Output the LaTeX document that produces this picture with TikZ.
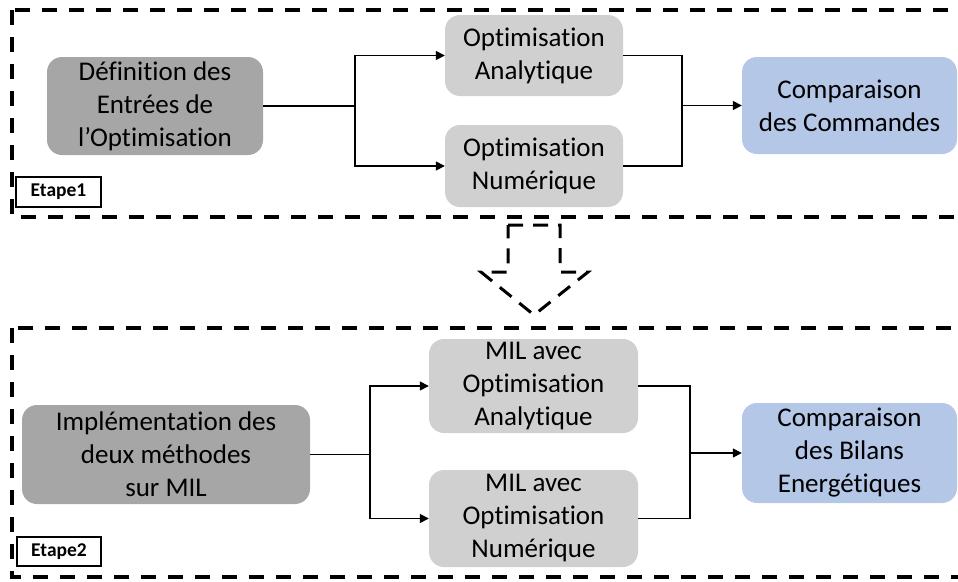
\documentclass[tikz,border=0pt]{standalone}
\usepackage{fontspec}
\setmainfont{Carlito}[Ligatures={NoCommon}]
\usetikzlibrary{arrows.meta}
\definecolor{darkbox}{HTML}{A6A6A6}
\definecolor{lightbox}{HTML}{D0D0D0}
\definecolor{bluebox}{HTML}{B4C7E7}
\tikzset{
  box/.style={rounded corners=15pt, inner sep=0pt, align=center, font=\fontsize{27}{33}\selectfont, text=black},
  darkstep/.style={box, fill=darkbox},
  lightstep/.style={box, fill=lightbox},
  bluestep/.style={box, fill=bluebox},
  frame/.style={line width=4pt, dash pattern=on 15pt off 12pt},
  bigarrow/.style={line width=3pt, dash pattern=on 15pt off 10pt},
  conn/.style={line width=1.5pt},
  arr/.style={conn, -{Triangle[length=9pt,width=9pt]}},
  etape/.style={draw=black, line width=1.3pt, fill=white, inner sep=0pt, font=\fontsize{19.5}{21}\selectfont\bfseries}
}
\begin{document}
\begin{tikzpicture}[x=1pt,y=-1pt]
\useasboundingbox (0,0) rectangle (958,581);
\clip (0,0) rectangle (958,581);
% frames
\draw[frame] (12,10) rectangle (975,217);
\draw[frame] (12,328) rectangle (975,577);
% big dashed arrow
\draw[bigarrow] (508,225) -- (560,225) -- (560,272) -- (588,272) -- (534,315) -- (481,272) -- (508,272) -- cycle;
% stage 1
\node[darkstep, minimum width=216pt, minimum height=98pt] (def) at (155,106) {Définition des\\Entrées de\\l’Optimisation};
\node[lightstep, minimum width=178pt, minimum height=81pt] (oa) at (534,55.5) {Optimisation\\Analytique};
\node[lightstep, minimum width=178pt, minimum height=82pt] (on) at (534,166) {Optimisation\\Numérique};
\node[bluestep, minimum width=215pt, minimum height=97pt] (cc) at (849.5,105.5) {Comparaison\\des Commandes};
\coordinate (s1) at (355,106);
\coordinate (m1) at (682,105.5);
\draw[conn] (def.east) -- (s1);
\draw[arr] (s1) |- (oa.west);
\draw[arr] (s1) |- (on.west);
\draw[conn] (oa.east) -| (m1);
\draw[conn] (on.east) -| (m1);
\draw[arr] (m1) -- (cc.west);
\node[etape, minimum width=85pt, minimum height=30pt] (e1) at (58.5,192) {Etape1};
% stage 2
\node[darkstep, minimum width=288pt, minimum height=99pt] (impl) at (166,454.5) {Implémentation des\\deux méthodes\\sur MIL};
\node[lightstep, minimum width=209pt, minimum height=94pt] (ma) at (533.5,386) {MIL avec\\Optimisation\\Analytique};
\node[lightstep, minimum width=209pt, minimum height=97pt] (mn) at (533.5,518.5) {MIL avec\\Optimisation\\Numérique};
\node[bluestep, minimum width=215pt, minimum height=100pt] (cb) at (849.5,453) {Comparaison\\des Bilans\\Energétiques};
\coordinate (s2) at (370,454.5);
\coordinate (m2) at (690,453);
\draw[conn] (impl.east) -- (s2);
\draw[arr] (s2) |- (ma.west);
\draw[arr] (s2) |- (mn.west);
\draw[conn] (ma.east) -| (m2);
\draw[conn] (mn.east) -| (m2);
\draw[arr] (m2) -- (cb.west);
\node[etape, minimum width=84pt, minimum height=29pt] (e2) at (59,551.5) {Etape2};
\end{tikzpicture}
\end{document}
